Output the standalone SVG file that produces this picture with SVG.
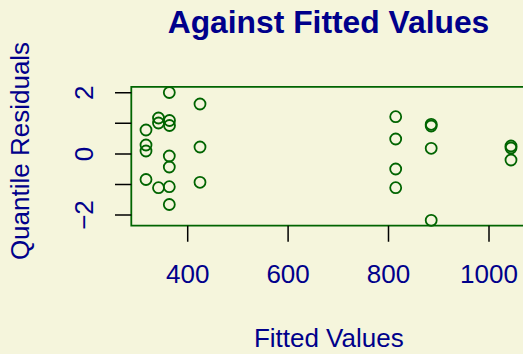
<svg xmlns="http://www.w3.org/2000/svg" width="523" height="354" viewBox="0 0 523 354">
<style>
text{font-family:"Liberation Sans",Arial,sans-serif;fill:#00008B}
.t{font-size:26px;text-anchor:middle}
.tk{stroke:#000;stroke-width:1.5;fill:none}
.p{fill:none;stroke:#006400;stroke-width:1.8}
</style>
<rect x="0" y="0" width="523" height="354" fill="#F5F5DC"/>
<text id="title" x="328.5" y="33.3" font-size="31.8" font-weight="bold" text-anchor="middle">Against Fitted Values</text>
<g id="box"><path d="M540,86.8 H131.3 V225.7 H540" fill="none" stroke="#006400" stroke-width="1.8"/></g>
<g id="yaxis">
<path class="tk" d="M115,92.7H131.3M115,123.3H131.3M115,153.9H131.3M115,184.5H131.3M115,215H131.3"/>
<text class="t" transform="translate(93.3,92.7) rotate(-90)">2</text>
<text class="t" transform="translate(93.3,153.9) rotate(-90)">0</text>
<text class="t" transform="translate(93.3,215) rotate(-90)">−2</text>
<text class="t" transform="translate(28.8,151) rotate(-90)">Quantile Residuals</text>
</g>
<g id="xaxis">
<path class="tk" d="M187.7,225.7V241.7M288.1,225.7V241.7M388.5,225.7V241.7M489,225.7V241.7"/>
<text class="t" x="187.7" y="283.3">400</text>
<text class="t" x="288.1" y="283.3">600</text>
<text class="t" x="388.5" y="283.3">800</text>
<text class="t" x="489" y="283.3">1000</text>
<text class="t" x="328.8" y="346.7">Fitted Values</text>
</g>
<g id="points">
<circle class="p" cx="169.3" cy="92.5" r="5.5"/>
<circle class="p" cx="200" cy="104" r="5.5"/>
<circle class="p" cx="158.5" cy="118" r="5.5"/>
<circle class="p" cx="158.5" cy="123" r="5.5"/>
<circle class="p" cx="169.5" cy="120.5" r="5.5"/>
<circle class="p" cx="169.5" cy="125.5" r="5.5"/>
<circle class="p" cx="146" cy="130" r="5.5"/>
<circle class="p" cx="146" cy="145" r="5.5"/>
<circle class="p" cx="146" cy="151" r="5.5"/>
<circle class="p" cx="169.3" cy="156" r="5.5"/>
<circle class="p" cx="200" cy="147" r="5.5"/>
<circle class="p" cx="169.3" cy="167" r="5.5"/>
<circle class="p" cx="146" cy="179.5" r="5.5"/>
<circle class="p" cx="158.5" cy="187.7" r="5.5"/>
<circle class="p" cx="169.3" cy="186.7" r="5.5"/>
<circle class="p" cx="200" cy="182.3" r="5.5"/>
<circle class="p" cx="169.3" cy="204.5" r="5.5"/>
<circle class="p" cx="395.7" cy="116.7" r="5.5"/>
<circle class="p" cx="395.7" cy="139" r="5.5"/>
<circle class="p" cx="395.7" cy="169" r="5.5"/>
<circle class="p" cx="395.7" cy="187.7" r="5.5"/>
<circle class="p" cx="431.2" cy="124.3" r="5.5"/>
<circle class="p" cx="431.2" cy="126" r="5.5"/>
<circle class="p" cx="431.2" cy="148.3" r="5.5"/>
<circle class="p" cx="431.2" cy="220.3" r="5.5"/>
<circle class="p" cx="511" cy="146" r="5.5"/>
<circle class="p" cx="511" cy="148" r="5.5"/>
<circle class="p" cx="511" cy="160" r="5.5"/>
</g>
</svg>
